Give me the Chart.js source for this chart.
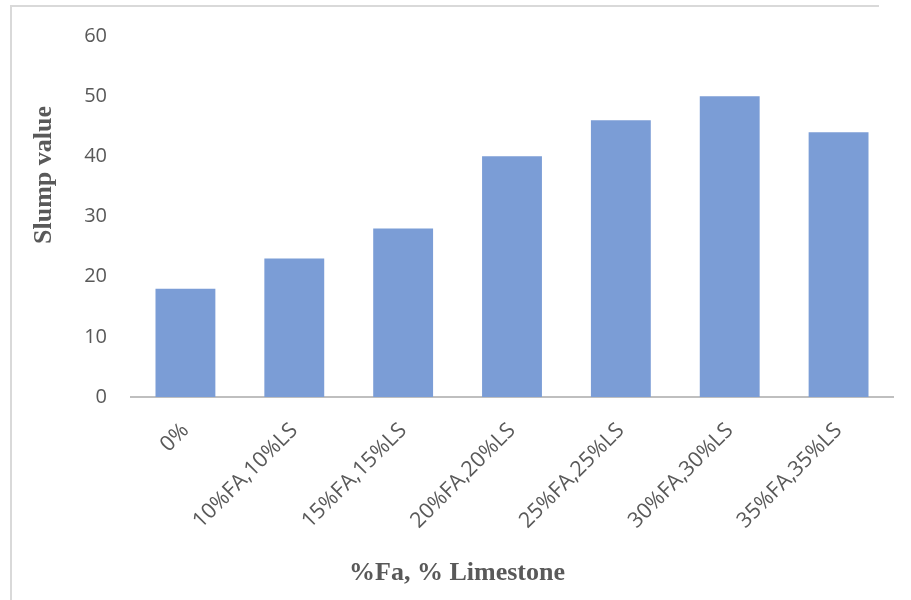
<!DOCTYPE html>
<html>
<head>
<meta charset="utf-8">
<script src="https://cdn.jsdelivr.net/npm/chart.js@4"></script>
<style>
  html, body { margin: 0; padding: 0; background: #fff; }
  #wrap { position: relative; width: 911px; height: 600px; overflow: hidden; }
  #frame { position: absolute; left: 10px; top: 5px; width: 867px; height: 620px;
           border-left: 2px solid #d9d9d9; border-top: 2px solid #d9d9d9; }
  canvas { position: absolute; left: 0; top: 0; }
</style>
</head>
<body>
<div id="wrap">
  <div id="frame"></div>
  <canvas id="chart" width="911" height="600"></canvas>
</div>
<script>
/* Slump value bar chart */
const categories = ['0%', '10%FA,10%LS', '15%FA,15%LS', '20%FA,20%LS', '25%FA,25%LS', '30%FA,30%LS', '35%FA,35%LS'];
const slumpValues = [18, 23, 28, 40, 46, 50, 44];
const yTitle = 'Slump value';
const xTitle = '%Fa, % Limestone';

const textColor = '#595959';

// axis titles sit off-centre in the original, so draw them ourselves
const axisTitles = {
  id: 'axisTitles',
  afterDraw(chart) {
    const ctx = chart.ctx;
    ctx.save();
    ctx.fillStyle = textColor;
    ctx.font = 'bold 26px "Liberation Serif"';
    ctx.textAlign = 'center';
    ctx.textBaseline = 'middle';
    ctx.fillText(xTitle, 457, 573);
    ctx.translate(44, 175);
    ctx.rotate(-Math.PI / 2);
    ctx.fillText(yTitle, 0, 0);
    ctx.restore();
  }
};

new Chart(document.getElementById('chart').getContext('2d'), {
  type: 'bar',
  data: {
    labels: categories,
    datasets: [{
      label: yTitle,
      data: slumpValues,
      backgroundColor: '#7b9dd6',
      borderWidth: 0,
      categoryPercentage: 1,
      barPercentage: 0.55,
    }],
  },
  options: {
    responsive: false,
    animation: false,
    devicePixelRatio: 1,
    layout: { padding: { left: 0, top: 36, right: 18, bottom: 0 } },
    plugins: { legend: { display: false }, tooltip: { enabled: false } },
    scales: {
      x: {
        grid: { display: false, drawTicks: false },
        border: { display: true, color: '#bfbfbf', width: 2 },
        ticks: { color: textColor, font: { family: 'Open Sans', size: 21.5 }, minRotation: 45, maxRotation: 45, padding: 21, autoSkip: false },
        afterFit: s => { s.height = 203; },
      },
      y: {
        min: 0, max: 60,
        grid: { display: false, drawTicks: false },
        border: { display: false },
        ticks: { stepSize: 10, color: textColor, font: { family: 'Open Sans', size: 20 }, padding: 24 },
        afterFit: s => { s.width = 131; },
      },
    },
  },
  plugins: [axisTitles],
});
</script>
</body>
</html>
